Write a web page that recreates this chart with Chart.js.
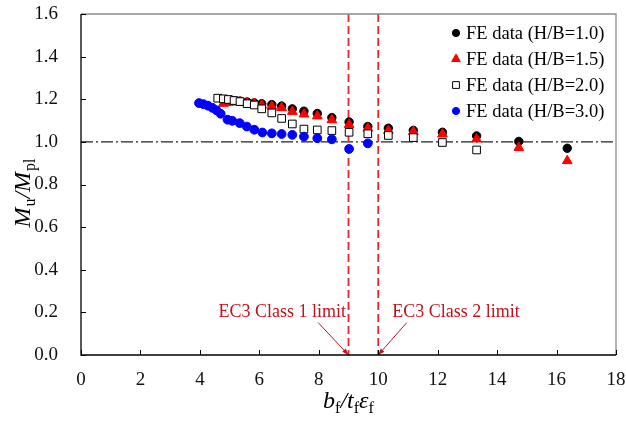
<!DOCTYPE html>
<html>
<head>
<meta charset="utf-8">
<script src="https://cdn.jsdelivr.net/npm/chart.js@4.4.1/dist/chart.umd.min.js"></script>
<style>
  html, body { margin: 0; padding: 0; background: #fff; }
</style>
</head>
<body>
<canvas id="myChart" width="626" height="427"></canvas>
<script>
'use strict';

// b_f / (t_f * eps_f) values and Mu/Mpl ratios
const xHB10 = [4.96, 5.15, 5.35, 5.59, 5.83, 6.08, 6.42, 6.75, 7.11, 7.50, 7.95, 8.44, 9.02, 9.65, 10.34, 11.18, 12.16, 13.31, 14.73, 16.36];
const yHB10 = [1.190, 1.193, 1.191, 1.187, 1.183, 1.179, 1.175, 1.168, 1.155, 1.144, 1.133, 1.114, 1.093, 1.072, 1.064, 1.054, 1.045, 1.028, 1.002, 0.970];

const xHB15 = [4.79, 4.96, 5.15, 5.35, 5.59, 5.83, 6.08, 6.42, 6.75, 7.11, 7.50, 7.95, 8.44, 9.02, 9.65, 10.34, 11.18, 12.16, 13.31, 14.73, 16.36];
const yHB15 = [1.180, 1.185, 1.188, 1.187, 1.183, 1.178, 1.172, 1.167, 1.160, 1.142, 1.130, 1.121, 1.103, 1.081, 1.064, 1.053, 1.048, 1.036, 1.013, 0.973, 0.911];

const xHB20 = [4.60, 4.79, 4.96, 5.15, 5.35, 5.59, 5.83, 6.08, 6.42, 6.75, 7.11, 7.50, 7.95, 8.44, 9.02, 9.65, 10.34, 11.18, 12.16, 13.31];
const yHB20 = [1.205, 1.202, 1.199, 1.194, 1.189, 1.179, 1.173, 1.155, 1.136, 1.110, 1.084, 1.060, 1.056, 1.053, 1.045, 1.038, 1.030, 1.020, 0.997, 0.962];

const xHB30 = [3.97, 4.12, 4.27, 4.42, 4.56, 4.70, 4.93, 5.09, 5.34, 5.58, 5.83, 6.10, 6.42, 6.75, 7.11, 7.50, 7.95, 8.44, 9.02, 9.65];
const yHB30 = [1.182, 1.177, 1.170, 1.160, 1.148, 1.132, 1.104, 1.099, 1.088, 1.072, 1.057, 1.044, 1.040, 1.037, 1.033, 1.025, 1.017, 1.012, 0.967, 0.993];

const seriesLabels = ['FE data (H/B=1.0)', 'FE data (H/B=1.5)', 'FE data (H/B=2.0)', 'FE data (H/B=3.0)'];

const xTicks = [0, 2, 4, 6, 8, 10, 12, 14, 16, 18];
const yTicks = [0.0, 0.2, 0.4, 0.6, 0.8, 1.0, 1.2, 1.4, 1.6];

const class1Limit = 9;
const class2Limit = 10;
const refRatio = 1.0;
const limitLabels = ['EC3 Class 1 limit', 'EC3 Class 2 limit'];

const SERIF = '"Liberation Serif", "Times New Roman", serif';

function toPoints(xs, ys) {
  let pts = [];
  for (let i = 0; i < xs.length; i++) {
    pts.push({ x: xs[i], y: ys[i] });
  }
  return pts;
}

// runs: [text, font, dy, gapBefore]
function drawRuns(ctx, runs, x, y) {
  let total = 0;
  for (const r of runs) {
    ctx.font = r[1];
    total += ctx.measureText(r[0]).width + (r[3] || 0);
  }
  let cx = x - total / 2;
  for (const r of runs) {
    ctx.font = r[1];
    cx += r[3] || 0;
    ctx.fillText(r[0], cx, y + r[2]);
    cx += ctx.measureText(r[0]).width;
  }
}

function drawArrow(ctx, x1, y1, x2, y2) {
  ctx.beginPath();
  ctx.moveTo(x1, y1);
  ctx.lineTo(x2, y2);
  ctx.stroke();
  const ang = Math.atan2(y2 - y1, x2 - x1);
  const len = 7;
  ctx.beginPath();
  ctx.moveTo(x2, y2);
  ctx.lineTo(x2 - len * Math.cos(ang - 0.35), y2 - len * Math.sin(ang - 0.35));
  ctx.lineTo(x2 - len * Math.cos(ang + 0.35), y2 - len * Math.sin(ang + 0.35));
  ctx.closePath();
  ctx.fill();
}

function noPad(s) {
  s.paddingTop = 0;
  s.paddingBottom = 0;
  s.paddingLeft = 0;
  s.paddingRight = 0;
}

// reference lines, limits and their labels
const annotationPlugin = {
  id: 'limits',
  beforeDatasetsDraw(chart) {
    const ctx = chart.ctx;
    const area = chart.chartArea;
    const xs = chart.scales.x;
    const ys = chart.scales.y;
    ctx.save();

    // Mu/Mpl = 1.0 dash-dot line
    const yRef = ys.getPixelForValue(refRatio);
    ctx.strokeStyle = '#222';
    ctx.lineWidth = 1.3;
    ctx.setLineDash([12, 3, 2, 3]);
    ctx.beginPath();
    ctx.moveTo(area.left, yRef);
    ctx.lineTo(area.right, yRef);
    ctx.stroke();

    // class limits
    ctx.strokeStyle = '#e8262b';
    ctx.lineWidth = 1.8;
    ctx.setLineDash([8, 4]);
    for (const v of [class1Limit, class2Limit]) {
      const px = xs.getPixelForValue(v);
      ctx.beginPath();
      ctx.moveTo(px, area.top);
      ctx.lineTo(px, area.bottom);
      ctx.stroke();
    }
    ctx.restore();
  },
  afterDatasetsDraw(chart) {
    const ctx = chart.ctx;
    const xs = chart.scales.x;
    const ys = chart.scales.y;
    ctx.save();
    ctx.fillStyle = '#c0141c';
    ctx.strokeStyle = '#c0141c';
    ctx.lineWidth = 1;
    ctx.font = '18px ' + SERIF;
    ctx.textAlign = 'center';
    ctx.textBaseline = 'middle';
    ctx.fillText(limitLabels[0], xs.getPixelForValue(6.77), ys.getPixelForValue(0.202));
    ctx.fillText(limitLabels[1], xs.getPixelForValue(12.62), ys.getPixelForValue(0.202));
    drawArrow(ctx, xs.getPixelForValue(7.98), ys.getPixelForValue(0.152),
      xs.getPixelForValue(class1Limit), ys.getPixelForValue(0));
    drawArrow(ctx, xs.getPixelForValue(10.96), ys.getPixelForValue(0.152),
      xs.getPixelForValue(class2Limit), ys.getPixelForValue(0));
    ctx.restore();
  }
};

// frame, inward ticks, axis titles and legend
const framePlugin = {
  id: 'frame',
  afterDraw(chart) {
    const ctx = chart.ctx;
    const a = chart.chartArea;
    const xs = chart.scales.x;
    const ys = chart.scales.y;
    ctx.save();
    ctx.lineWidth = 1.3;
    ctx.strokeStyle = '#8a8a8a';
    ctx.beginPath();
    ctx.moveTo(a.left, a.top);
    ctx.lineTo(a.right, a.top);
    ctx.lineTo(a.right, a.bottom);
    ctx.stroke();
    ctx.strokeStyle = '#000';
    ctx.beginPath();
    ctx.moveTo(a.left, a.top);
    ctx.lineTo(a.left, a.bottom);
    ctx.lineTo(a.right, a.bottom);
    ctx.stroke();

    ctx.lineWidth = 1;
    for (const t of xTicks) {
      const px = Math.round(xs.getPixelForValue(t)) + 0.5;
      ctx.beginPath();
      ctx.moveTo(px, a.bottom);
      ctx.lineTo(px, a.bottom - 5);
      ctx.stroke();
    }
    for (const t of yTicks) {
      const py = Math.round(ys.getPixelForValue(t)) + 0.5;
      ctx.beginPath();
      ctx.moveTo(a.left, py);
      ctx.lineTo(a.left + 5, py);
      ctx.stroke();
    }

    // axis titles
    ctx.fillStyle = '#000';
    ctx.textAlign = 'left';
    ctx.textBaseline = 'alphabetic';
    const big = 'italic 24px ' + SERIF;
    const sub = '16px ' + SERIF;
    drawRuns(ctx, [['b', big, 0], ['f', sub, 5], ['/', big, 0], ['t', big, 0], ['f', sub, 5], ['\u03b5', big, 0], ['f', sub, 5]],
      (a.left + a.right) / 2, 408);
    ctx.save();
    ctx.translate(30, 193);
    ctx.rotate(-Math.PI / 2);
    drawRuns(ctx, [['M', big, 0], ['u', sub, 5, 1], ['/', big, 0], ['M', big, 0], ['pl', sub, 5, 1]], 0, 0);
    ctx.restore();

    // legend
    ctx.font = '18.5px ' + SERIF;
    ctx.textBaseline = 'middle';
    const sizes = [3.6, 5, 4.8, 3.6];
    chart.data.datasets.forEach(function (ds, i) {
      const yy = a.top + 19 + i * 26;
      const mx = a.right - 160;
      ctx.fillStyle = ds.backgroundColor;
      ctx.strokeStyle = ds.borderColor;
      ctx.lineWidth = 1;
      Chart.helpers.drawPoint(ctx, { pointStyle: ds.pointStyle, radius: sizes[i], rotation: 0, borderWidth: 1 }, mx, yy);
      ctx.fillStyle = '#000';
      ctx.fillText(ds.label, a.right - 150, yy + 1);
    });
    ctx.restore();
  }
};

const data = {
  datasets: [
    {
      label: seriesLabels[0],
      data: toPoints(xHB10, yHB10),
      pointStyle: 'circle',
      pointRadius: 4.2,
      backgroundColor: '#000000',
      borderColor: '#000000',
      borderWidth: 1,
      order: 3
    },
    {
      label: seriesLabels[1],
      data: toPoints(xHB15, yHB15),
      pointStyle: 'triangle',
      pointRadius: 5.6,
      backgroundColor: '#ff0000',
      borderColor: '#ff0000',
      borderWidth: 1,
      order: 2
    },
    {
      label: seriesLabels[2],
      data: toPoints(xHB20, yHB20),
      pointStyle: 'rect',
      pointRadius: 5.4,
      backgroundColor: '#ffffff',
      borderColor: '#000000',
      borderWidth: 1,
      order: 1
    },
    {
      label: seriesLabels[3],
      data: toPoints(xHB30, yHB30),
      pointStyle: 'circle',
      pointRadius: 4.4,
      backgroundColor: '#0000ff',
      borderColor: '#0000ff',
      borderWidth: 1,
      order: 0
    }
  ]
};

const config = {
  type: 'scatter',
  data: data,
  options: {
    responsive: false,
    animation: false,
    events: [],
    layout: { padding: { top: 14, right: 10, left: 0, bottom: 0 } },
    plugins: {
      legend: { display: false },
      tooltip: { enabled: false }
    },
    scales: {
      x: {
        type: 'linear',
        min: xTicks[0],
        max: xTicks[xTicks.length - 1],
        afterFit: function (s) { s.height = 72; noPad(s); },
        afterBuildTicks: function (s) { s.ticks = xTicks.map(v => ({ value: v })); },
        grid: { display: false },
        border: { display: false },
        ticks: {
          padding: 6,
          color: '#111',
          font: { family: SERIF, size: 19 },
          callback: v => String(v)
        }
      },
      y: {
        type: 'linear',
        min: yTicks[0],
        max: yTicks[yTicks.length - 1],
        afterFit: function (s) { s.width = 81; noPad(s); },
        afterBuildTicks: function (s) { s.ticks = yTicks.map(v => ({ value: v })); },
        grid: { display: false },
        border: { display: false },
        ticks: {
          padding: 15,
          color: '#111',
          font: { family: SERIF, size: 19 },
          callback: v => Number(v).toFixed(1)
        }
      }
    }
  },
  plugins: [annotationPlugin, framePlugin]
};

let canvasChart = document.getElementById('myChart');
const myChart = new Chart(canvasChart, config);
</script>
</body>
</html>
